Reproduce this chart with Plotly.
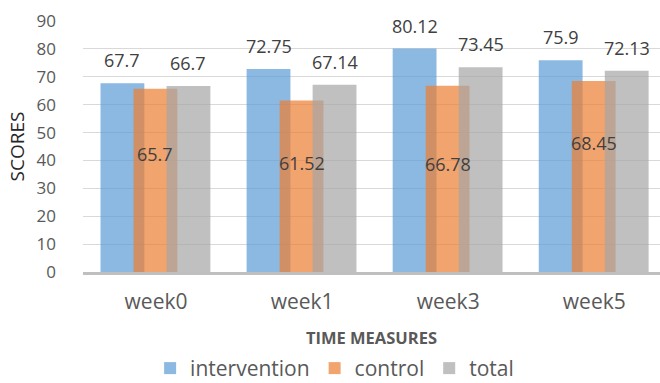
import plotly.graph_objects as go

# Scores per time point
weeks = ["week0", "week1", "week3", "week5"]
intervention = [67.7, 72.75, 80.12, 75.9]
control = [65.7, 61.52, 66.78, 68.45]
total = [66.7, 67.14, 73.45, 72.13]

series = [
    ("intervention", intervention, "rgba(91,155,213,0.7)"),
    ("control", control, "rgba(237,125,49,0.7)"),
    ("total", total, "rgba(165,165,165,0.7)"),
]

FONT = "Open Sans"
GREY_TEXT = "#595959"
LABEL_TEXT = "#404040"

bar_w = 0.30
first_offset = -0.38
step = 0.226

# pixel distance of the control labels below the bar top
control_label_drop = [65, 63, 78, 62]

fig = go.Figure()
annotations = []
for i, (name, vals, color) in enumerate(series):
    off = first_offset + i * step
    fig.add_trace(go.Bar(
        name=name, x=weeks, y=vals,
        width=bar_w, offset=off,
        marker=dict(color=color, line=dict(width=0)),
        hoverinfo="x+y+name",
    ))
    for j, v in enumerate(vals):
        ys = -control_label_drop[j] if name == "control" else 23
        annotations.append(dict(
            x=j + off + bar_w / 2, y=v, xref="x", yref="y",
            text=str(v), showarrow=False, yshift=ys,
            font=dict(family=FONT, size=18, color=LABEL_TEXT),
        ))

fig.update_layout(
    width=660, height=383,
    barmode="overlay",
    paper_bgcolor="white", plot_bgcolor="white",
    margin=dict(l=83, r=0, t=21, b=111, autoexpand=False),
    font=dict(family=FONT, color=GREY_TEXT),
    annotations=annotations,
    showlegend=True,
    legend=dict(
        orientation="h", x=0.507, xanchor="center", xref="container",
        y=-0.466, yanchor="bottom", yref="paper",
        font=dict(family=FONT, size=21, color=GREY_TEXT),
        itemwidth=30, traceorder="normal",
    ),
    xaxis=dict(
        type="category", range=[-0.5, 3.45], automargin=False,
        showline=True, linecolor="#BFBFBF", linewidth=3,
        showgrid=False, ticks="", ticklabelstandoff=9,
        tickfont=dict(family=FONT, size=21, color=GREY_TEXT),
        title=dict(text="<b>TIME MEASURES</b>", standoff=19,
                   font=dict(family=FONT, size=16.5, color=GREY_TEXT)),
    ),
    yaxis=dict(
        range=[0, 90], dtick=10, automargin=False,
        showgrid=True, gridcolor="#D9D9D9", gridwidth=1,
        zeroline=False, showline=False, ticks="", ticklabelstandoff=26,
        tickfont=dict(family=FONT, size=17, color=GREY_TEXT),
        title=dict(text="SCORES", standoff=6,
                   font=dict(family=FONT, size=19, color="#262626")),
    ),
)

fig.write_html("out.html")
